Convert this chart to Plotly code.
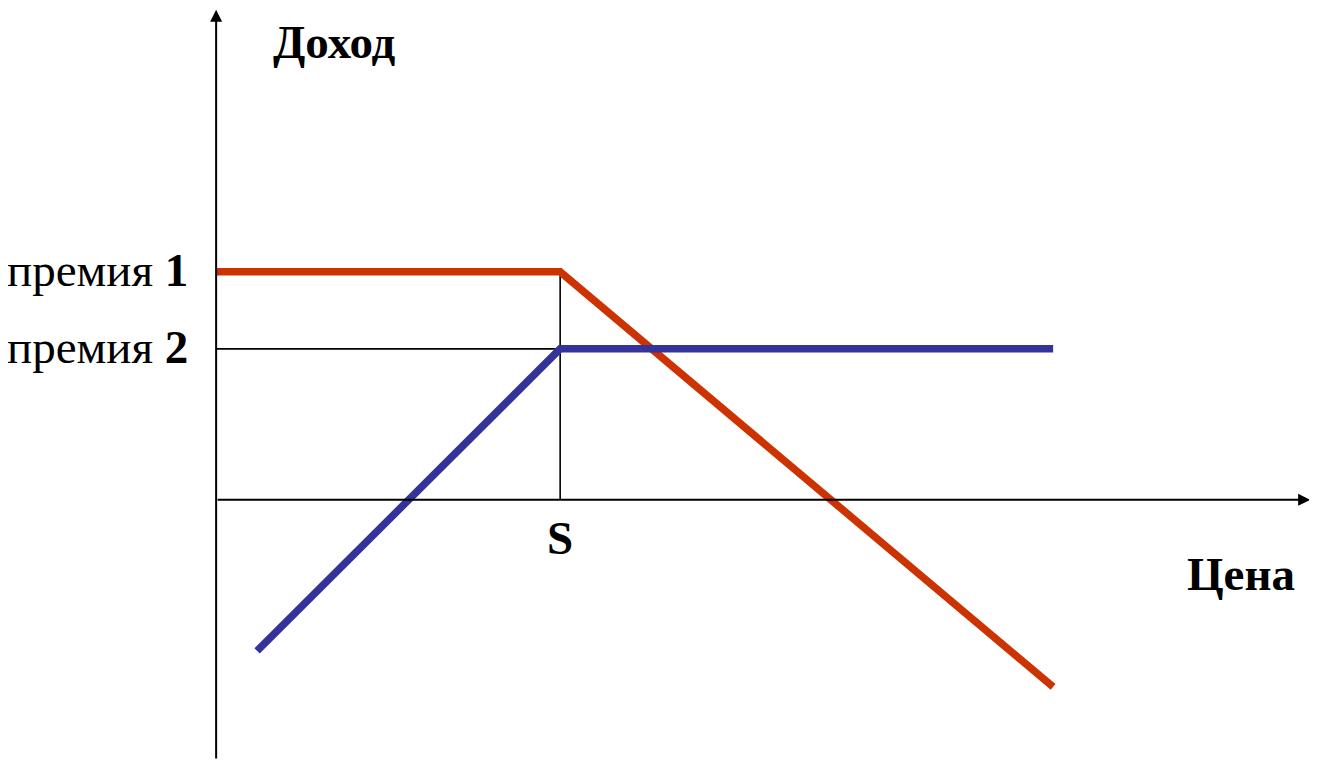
import plotly.graph_objects as go

# Data (units: 1 unit ≈ equal px in x and y)
S = 10.0
premium1 = 6.63
premium2 = 4.39
red_x = [0.0, 10.0, 24.33]
red_y = [6.63, 6.63, -5.44]
blue_x = [1.19, 10.0, 24.33]
blue_y = [-4.39, 4.39, 4.39]
axis_x_end = 31.8
axis_y_top = 14.25
axis_y_bottom = -7.56

RED = "#CC3300"
BLUE = "#333399"
SERIF = "Liberation Serif"
FS = 47

fig = go.Figure()

# thin guide lines
fig.add_trace(go.Scatter(x=[0, S], y=[premium2, premium2], mode="lines",
                         line=dict(color="black", width=1.6), hoverinfo="skip"))
fig.add_trace(go.Scatter(x=[S, S], y=[0, premium1], mode="lines",
                         line=dict(color="black", width=1.6), hoverinfo="skip"))

fig.add_trace(go.Scatter(x=red_x, y=red_y, mode="lines",
                         line=dict(color=RED, width=7.5), hoverinfo="skip"))
fig.add_trace(go.Scatter(x=blue_x, y=blue_y, mode="lines",
                         line=dict(color=BLUE, width=7.5), hoverinfo="skip"))

# axes with arrows
fig.add_annotation(x=axis_x_end, y=0, ax=0, ay=0, xref="x", yref="y", axref="x", ayref="y",
                   showarrow=True, arrowhead=2, arrowsize=1.2, arrowwidth=2, arrowcolor="black", text="")
fig.add_annotation(x=0, y=axis_y_top, ax=0, ay=axis_y_bottom, xref="x", yref="y", axref="x", ayref="y",
                   showarrow=True, arrowhead=2, arrowsize=1.2, arrowwidth=2, arrowcolor="black", text="")

# labels
fig.add_annotation(x=3.45, y=13.3, text="<b>Доход</b>", showarrow=False,
                   font=dict(family=SERIF, size=FS, color="black"))
fig.add_annotation(x=-0.75, y=premium1 + 0.05, text="премия <b>1</b>", showarrow=False, xanchor="right",
                   font=dict(family=SERIF, size=FS, color="black"))
fig.add_annotation(x=-0.75, y=premium2 + 0.05, text="премия <b>2</b>", showarrow=False, xanchor="right",
                   font=dict(family=SERIF, size=FS, color="black"))
fig.add_annotation(x=S, y=-1.1, text="<b>S</b>", showarrow=False,
                   font=dict(family=SERIF, size=FS, color="black"))
fig.add_annotation(x=29.8, y=-2.15, text="<b>Цена</b>", showarrow=False,
                   font=dict(family=SERIF, size=FS, color="black"))

fig.update_layout(
    width=1309, height=755,
    margin=dict(l=0, r=0, t=0, b=0),
    paper_bgcolor="white", plot_bgcolor="white",
    showlegend=False,
    xaxis=dict(range=[-6.05, 32.0], visible=False, fixedrange=True),
    yaxis=dict(range=[-7.65, 14.30], visible=False, fixedrange=True),
)

fig.write_html("out.html")
